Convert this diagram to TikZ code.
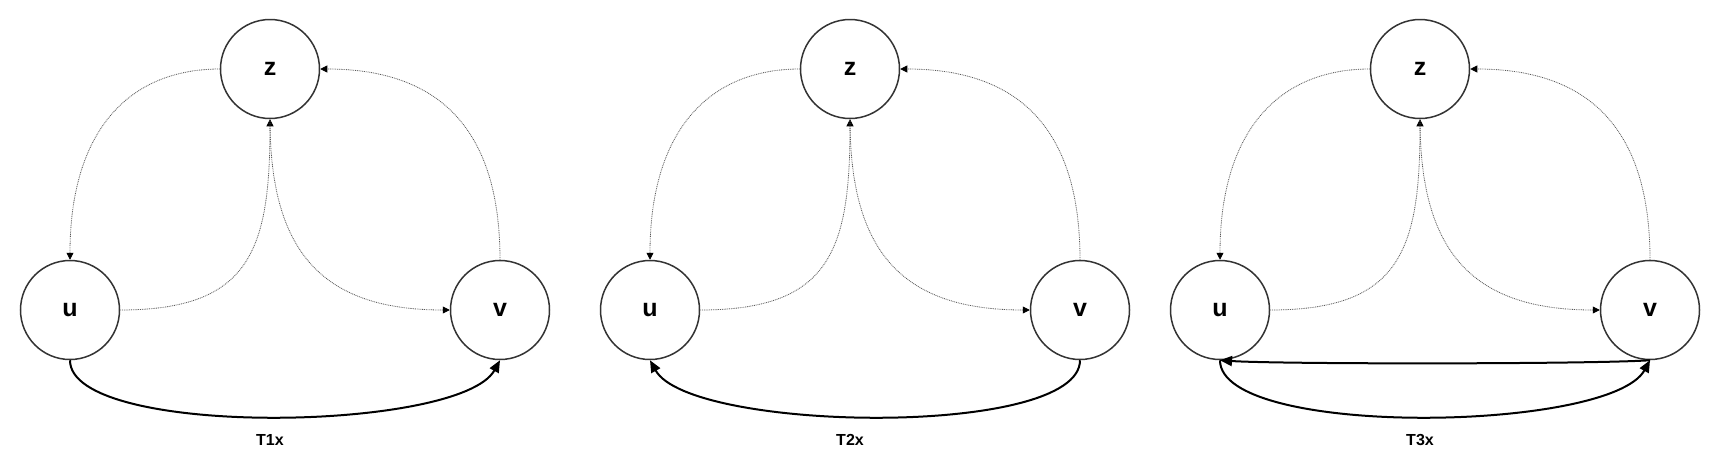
\documentclass[tikz,border=0pt]{standalone}
\usepackage{fontspec}
\setmainfont{Liberation Sans}
\usetikzlibrary{arrows.meta}
\begin{document}
\begin{tikzpicture}[x=1pt,y=-1pt,
 vert/.style={circle,draw=black!80,line width=1.5pt,minimum size=99pt,inner sep=0pt,font=\fontsize{25}{25}\selectfont\bfseries},
 weak/.style={draw=black!65,line width=0.8pt,dash pattern=on 0.9pt off 0.9pt,-{Triangle[length=7pt,width=7pt,color=black]}},
 strong/.style={draw=black,line width=2pt,-{Triangle[length=12pt,width=10pt]}},
 caption/.style={font=\fontsize{16}{16}\selectfont\bfseries}]
\useasboundingbox (0,0) rectangle (1726,469);
\foreach \i/\o in {1/0,2/580,3/1150}{
  \node[vert] (u\i) at (70+\o,310) {u};
  \node[vert] (z\i) at (270+\o,69) {z};
  \node[vert] (v\i) at (500+\o,310) {v};
  \node[caption] (t\i) at (270+\o,440) {T\i x};
  \draw[weak] (z\i.west) .. controls +(-90,0) and +(0,-130) .. (u\i.north);
  \draw[weak] (u\i.east) .. controls +(130,0) and +(0,131) .. (z\i.south);
  \draw[weak] (z\i.south) .. controls +(0,130) and +(-130,0) .. (v\i.west);
  \draw[weak] (v\i.north) .. controls +(0,-140) and +(110,0) .. (z\i.east);
}
\draw[strong] (u1.south) .. controls +(0,78) and +(-40,72) .. (v1.south);
\draw[strong] (v2.south) .. controls +(0,78) and +(40,72) .. (u2.south);
\draw[strong] (u3.south) .. controls +(0,78) and +(-40,72) .. (v3.south);
\draw[strong] (v3.south) .. controls +(-60,4) and +(60,4) .. (u3.south);
\end{tikzpicture}
\end{document}
